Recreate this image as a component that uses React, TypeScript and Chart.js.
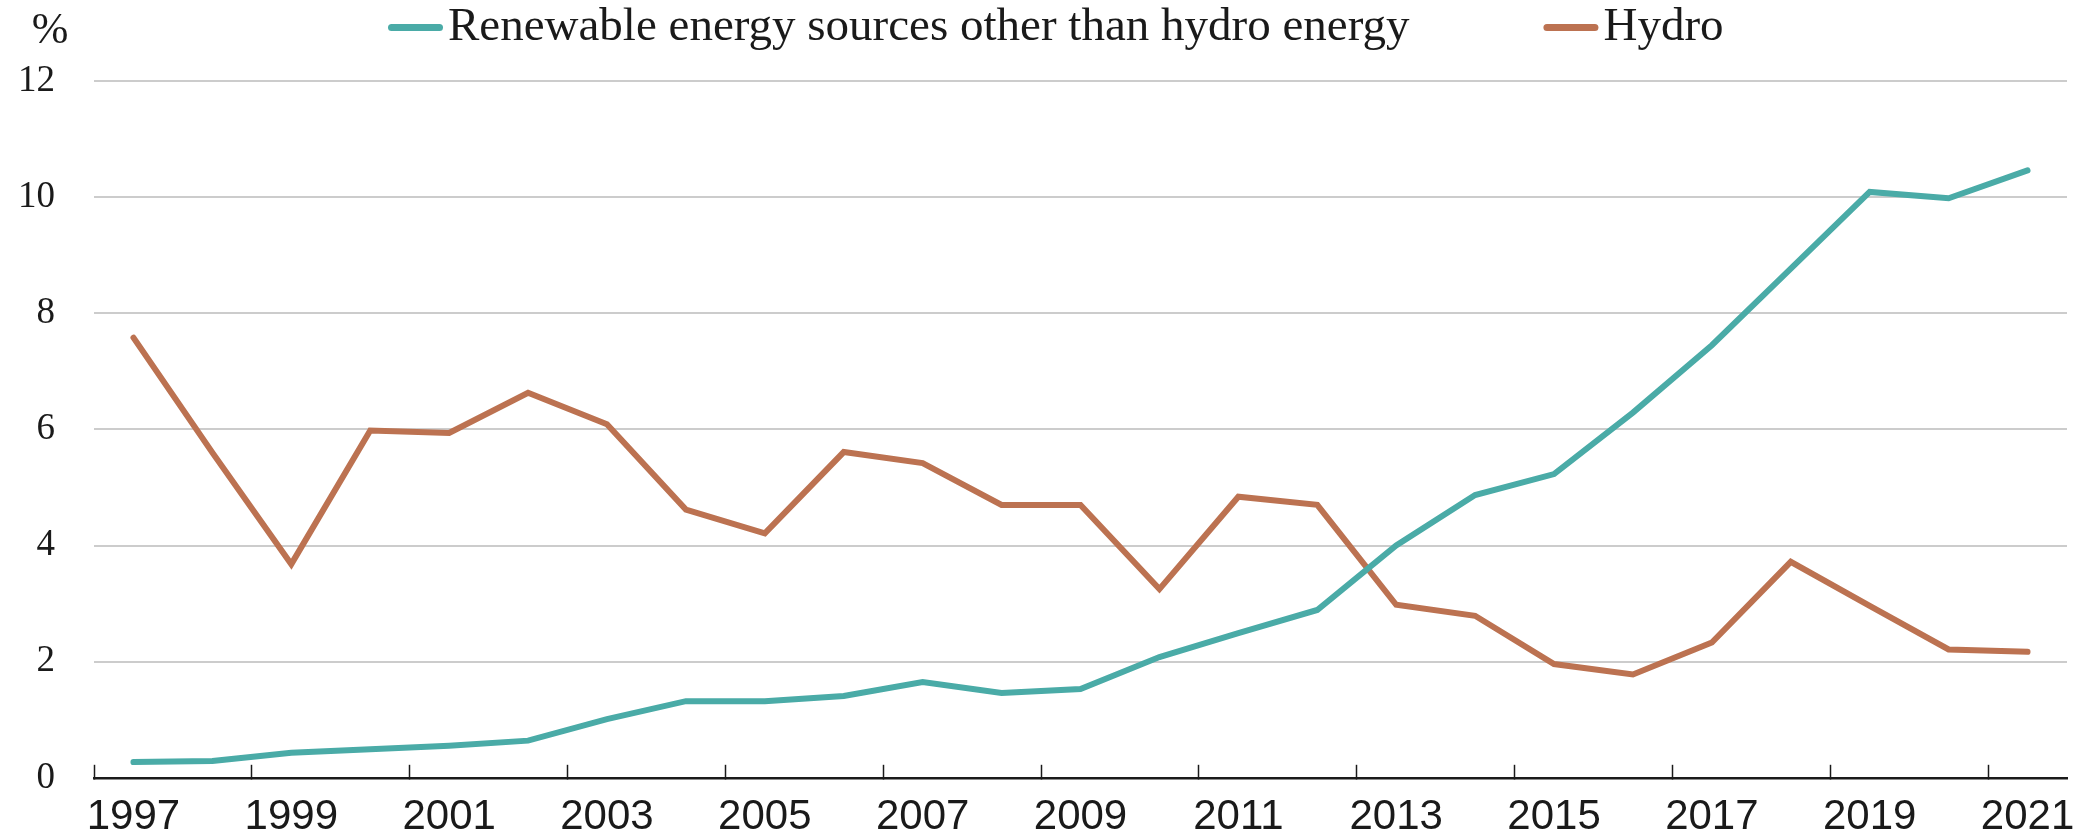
import React, { useEffect, useRef } from 'react';
import { Chart, registerables } from 'chart.js';

Chart.register(...registerables);

const years = [
  '1997', '1998', '1999', '2000', '2001', '2002', '2003', '2004', '2005',
  '2006', '2007', '2008', '2009', '2010', '2011', '2012', '2013', '2014',
  '2015', '2016', '2017', '2018', '2019', '2020', '2021',
];
const renewables = [
  0.27, 0.29, 0.43, 0.49, 0.55, 0.64, 1.01, 1.32, 1.32, 1.41, 1.65, 1.46, 1.53,
  2.08, 2.49, 2.89, 4.0, 4.87, 5.23, 6.29, 7.45, 8.77, 10.09, 9.98, 10.46,
];
const hydro = [
  7.58, 5.6, 3.68, 5.98, 5.94, 6.63, 6.09, 4.62, 4.21, 5.61, 5.42, 4.7, 4.7,
  3.25, 4.84, 4.7, 2.98, 2.79, 1.96, 1.78, 2.33, 3.72, 2.96, 2.21, 2.17,
];
const seriesLabels = ['Renewable energy sources other than hydro energy', 'Hydro'];
const seriesColors = ['#4aaba7', '#bc7251'];
const yUnit = '%';
const yMin = 0;
const yMax = 12;
const yStep = 2;

const TEXT = '#1a1a1a';

const legendPlugin = {
  id: 'customLegend',
  afterDraw(chart: any) {
    const ctx = chart.ctx;
    const area = chart.chartArea;
    ctx.save();
    ctx.font = '47px "Liberation Serif"';
    ctx.textBaseline = 'alphabetic';
    ctx.textAlign = 'left';
    let x = area.left + 294;
    chart.data.datasets.forEach((ds: any) => {
      ctx.strokeStyle = ds.borderColor;
      ctx.lineWidth = 7;
      ctx.lineCap = 'round';
      ctx.beginPath();
      ctx.moveTo(x + 3.5, 27.5);
      ctx.lineTo(x + 55 - 3.5, 27.5);
      ctx.stroke();
      x += 60;
      ctx.fillStyle = TEXT;
      ctx.fillText(ds.label, x, 40);
      x += ctx.measureText(ds.label).width + 134;
    });
    ctx.font = '44px "Liberation Serif"';
    ctx.textAlign = 'center';
    ctx.fillStyle = TEXT;
    ctx.fillText(yUnit, 50, 43);
    ctx.restore();
  },
};

export default function App() {
  const canvasRef = useRef<HTMLCanvasElement | null>(null);

  useEffect(() => {
    if (!canvasRef.current) return;
    const chart = new Chart(canvasRef.current, {
      type: 'line',
      data: {
        labels: years,
        datasets: [
          {
            label: seriesLabels[0],
            data: renewables,
            borderColor: seriesColors[0],
            backgroundColor: seriesColors[0],
            borderWidth: 6,
            pointRadius: 0,
            tension: 0,
            borderCapStyle: 'round',
            borderJoinStyle: 'miter',
          },
          {
            label: seriesLabels[1],
            data: hydro,
            borderColor: seriesColors[1],
            backgroundColor: seriesColors[1],
            borderWidth: 6,
            pointRadius: 0,
            tension: 0,
            borderCapStyle: 'round',
            borderJoinStyle: 'miter',
          },
        ],
      },
      options: {
        animation: false,
        responsive: true,
        maintainAspectRatio: false,
        devicePixelRatio: 1,
        layout: { padding: { top: 81, right: 20, left: 0, bottom: 0 } },
        plugins: {
          legend: { display: false },
          tooltip: { enabled: false },
        },
        scales: {
          x: {
            type: 'category',
            offset: true,
            grid: {
              offset: true,
              drawOnChartArea: false,
              drawTicks: true,
              tickLength: -13,
              tickWidth: 1.5,
              tickColor: (c: any) => (c.index !== undefined && c.index % 2 === 0 ? TEXT : 'rgba(0,0,0,0)'),
            },
            border: { display: true, color: TEXT, width: 2.5 },
            ticks: {
              autoSkip: false,
              maxRotation: 0,
              minRotation: 0,
              padding: 27,
              color: TEXT,
              font: { family: '"Liberation Sans", Arial, sans-serif', size: 42 },
              callback: (_v: any, i: number) => (i % 2 === 0 ? years[i] : ''),
            },
            afterFit: (s: any) => {
              s.height = 60;
              s.paddingLeft = 0;
              s.paddingRight = 0;
            },
          },
          y: {
            min: yMin,
            max: yMax,
            border: { display: false },
            grid: {
              color: (c: any) => (c.tick && c.tick.value === 0 ? 'rgba(0,0,0,0)' : '#cccccc'),
              lineWidth: 2,
              drawTicks: false,
            },
            ticks: {
              stepSize: yStep,
              padding: 39,
              color: TEXT,
              font: { family: '"Liberation Serif", serif', size: 37 },
              callback: (v: any) => String(v),
            },
            afterFit: (s: any) => {
              s.width = 94;
            },
          },
        },
      },
      plugins: [legendPlugin],
    } as any);
    return () => chart.destroy();
  }, []);

  return (
    <div
      style={{
        position: 'fixed',
        left: 0,
        top: 0,
        width: '2087px',
        height: '839px',
        overflow: 'hidden',
        background: '#ffffff',
      }}
    >
      <canvas ref={canvasRef} />
    </div>
  );
}
